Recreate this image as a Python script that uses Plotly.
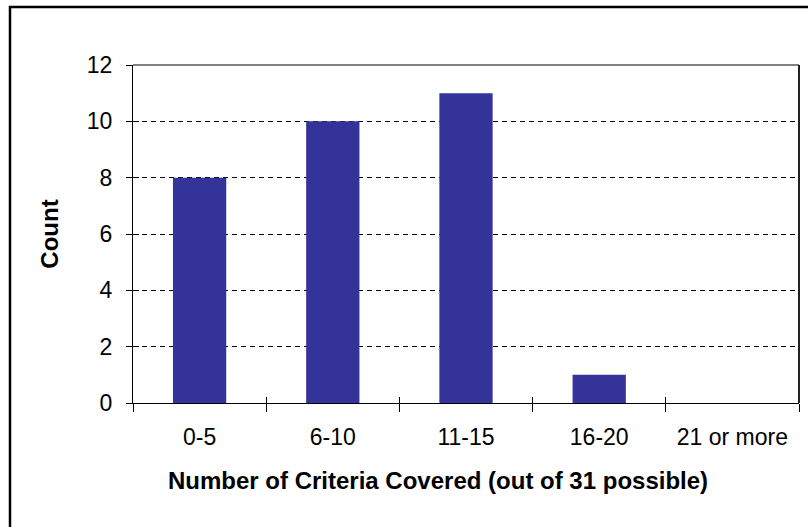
import plotly.graph_objects as go

# Histogram of criteria coverage
categories = ["0-5", "6-10", "11-15", "16-20", "21 or more"]
counts = [8, 10, 11, 1, 0]
y_ticks = [0, 2, 4, 6, 8, 10, 12]
x_title = "Number of Criteria Covered (out of 31 possible)"
y_title = "Count"

FONT = "Liberation Sans, Arial, sans-serif"
BAR = "#333399"

fig = go.Figure()
fig.add_trace(go.Bar(
    x=categories, y=counts,
    marker=dict(color=BAR, line=dict(width=0)),
    width=0.4, hoverinfo="x+y",
))

# Extra axes used only to draw the inner half of the crossing tick marks
fig.add_trace(go.Scatter(
    x=list(range(len(categories))), y=counts, xaxis="x2", yaxis="y2",
    mode="none", showlegend=False, hoverinfo="skip",
))

L, R, T, B = 133, 9, 65, 124
W, H = 808, 527
PW, PH = W - L - R, H - T - B

fig.update_layout(
    width=W, height=H,
    margin=dict(l=L, r=R, t=T, b=B, pad=0),
    paper_bgcolor="white", plot_bgcolor="white",
    showlegend=False,
    font=dict(family=FONT, color="black", size=23),
    xaxis=dict(
        type="category", categoryarray=categories, range=[-0.5, 4.5],
        showline=True, linecolor="black", linewidth=1,
        ticks="outside", ticklen=8, tickwidth=1, tickcolor="black",
        tickson="boundaries", showgrid=False, zeroline=False,
        tickfont=dict(size=23, family=FONT), ticklabelstandoff=13,
    ),
    yaxis=dict(
        range=[0, 12], tickvals=y_ticks,
        showline=True, linecolor="black", linewidth=1,
        ticks="outside", ticklen=6, tickwidth=1, tickcolor="black",
        showgrid=True, gridcolor="black", gridwidth=1, griddash="5px,4px",
        zeroline=False,
        tickfont=dict(size=23, family=FONT), ticklabelstandoff=9,
        title=dict(text=f"<b>{y_title}</b>", font=dict(size=24, family=FONT), standoff=21),
    ),
    xaxis2=dict(
        overlaying="x", range=[-0.5, 4.5],
        tickvals=[i - 0.5 for i in range(len(categories) + 1)],
        ticks="inside", ticklen=6, tickwidth=1, tickcolor="black",
        showticklabels=False, showgrid=False, zeroline=False, showline=False,
    ),
    yaxis2=dict(
        overlaying="y", range=[0, 12], tickvals=y_ticks,
        ticks="inside", ticklen=6, tickwidth=1, tickcolor="black",
        showticklabels=False, showgrid=False, zeroline=False, showline=False,
    ),
    annotations=[
        # x-axis title, centred on the chart area rather than the plot area
        dict(text=f"<b>{x_title}</b>", xref="paper", yref="paper",
             x=(438 - L) / PW, y=-(480 - (H - B)) / PH,
             xanchor="center", yanchor="middle", showarrow=False,
             font=dict(size=24, family=FONT, color="black")),
    ],
    shapes=[
        # plot-area frame: gray top edge, dark right edge
        dict(type="line", xref="paper", yref="paper", x0=0, x1=1, y0=1, y1=1,
             line=dict(color="#808080", width=2), layer="above"),
        dict(type="line", xref="paper", yref="paper", x0=1, x1=1, y0=0, y1=1,
             line=dict(color="#222222", width=2), layer="above"),
        # chart-area border
        dict(type="rect", xref="paper", yref="paper",
             x0=(10 - L) / PW, x1=(W + 20 - L) / PW,
             y0=-(H + 20 - (H - B)) / PH, y1=((H - B) - 7) / PH,
             line=dict(color="black", width=2.5), layer="above"),
    ],
)

fig.write_html("out.html")
